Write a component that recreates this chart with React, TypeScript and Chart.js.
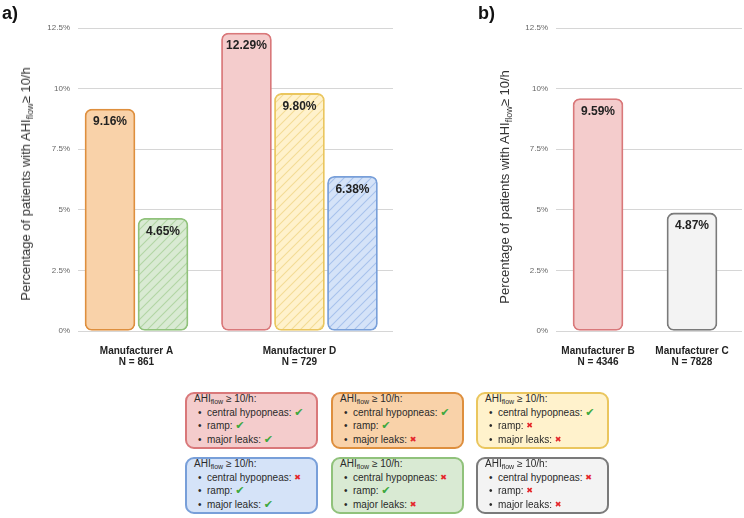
import React, { useEffect, useRef } from "react";
import { Chart, registerables } from "chart.js";

Chart.register(...registerables);

// ---------- data ----------
const leftCategories = ["Manufacturer A", "Manufacturer D"];
const leftCounts = ["N = 861", "N = 729"];
const rightCategories = ["Manufacturer B", "Manufacturer C"];
const rightCounts = ["N = 4346", "N = 7828"];

// left panel series (null = not offered by that manufacturer)
const seriesOrange = [9.16, null];
const seriesGreen = [4.65, null];
const seriesPink = [null, 12.29];
const seriesYellow = [null, 9.8];
const seriesBlue = [null, 6.38];

// right panel
const rightValues = [9.59, 4.87];

const yTickValues = [0, 2.5, 5, 7.5, 10, 12.5];

const legendItems = ["central hypopneas:", "ramp:", "major leaks:"];
const legendOrder = ["pink", "orange", "yellow", "blue", "green", "gray"];
const legendChecks = [
  [true, true, true],
  [true, true, false],
  [true, false, false],
  [false, true, true],
  [false, true, false],
  [false, false, false],
];

// ---------- styles ----------
const FONT = '"Liberation Sans", Arial, Helvetica, "DejaVu Sans", sans-serif';

const PALETTE: Record<string, { fill: string; border: string; hatch?: string }> = {
  pink: { fill: "#f4cccc", border: "#d9787a" },
  orange: { fill: "#f9d2a9", border: "#de8f3e" },
  yellow: { fill: "#fff2cc", border: "#eac65e", hatch: "#f3dc95" },
  blue: { fill: "#d5e3f8", border: "#789fd9", hatch: "#a8c2ec" },
  green: { fill: "#d9ead3", border: "#90c27b", hatch: "#b2d5a4" },
  gray: { fill: "#f3f3f3", border: "#7a7a7a" },
};

function makeHatch(ctx: CanvasRenderingContext2D, fill: string, line: string) {
  const s = 9;
  const c = document.createElement("canvas");
  c.width = s;
  c.height = s;
  const g = c.getContext("2d")!;
  g.fillStyle = fill;
  g.fillRect(0, 0, s, s);
  g.strokeStyle = line;
  g.lineWidth = 1.1;
  g.beginPath();
  g.moveTo(-1, s + 1);
  g.lineTo(s + 1, -1);
  g.moveTo(-1, 1);
  g.lineTo(1, -1);
  g.moveTo(s - 1, s + 1);
  g.lineTo(s + 1, s - 1);
  g.stroke();
  return ctx.createPattern(c, "repeat") as CanvasPattern;
}

const valueLabels = {
  id: "valueLabels",
  afterDatasetsDraw(chart: any) {
    const ctx = chart.ctx;
    ctx.save();
    ctx.font = `bold 12px ${FONT}`;
    ctx.fillStyle = "#222";
    ctx.textAlign = "center";
    ctx.textBaseline = "middle";
    chart.data.datasets.forEach((ds: any, di: number) => {
      const meta = chart.getDatasetMeta(di);
      meta.data.forEach((el: any, i: number) => {
        const raw = ds.data[i];
        const v = raw && typeof raw === "object" ? raw.y : raw;
        if (v === null || v === undefined) return;
        ctx.fillText(v.toFixed(2) + "%", el.x, el.y + 13);
      });
    });
    ctx.restore();
  },
};

function buildOptions(
  categories: string[],
  counts: string[],
  xMin: number,
  xMax: number,
  padLeft: number,
  padRight: number
) {
  return {
    animation: false,
    responsive: true,
    maintainAspectRatio: false,
    layout: { padding: { left: padLeft, right: padRight, top: 28, bottom: 0 } },
    plugins: {
      legend: { display: false },
      tooltip: { enabled: false },
      title: { display: false },
    },
    datasets: {
      bar: {
        skipNull: true,
        barThickness: 53,
        maxBarThickness: 50,
        borderRadius: 7,
        borderSkipped: false,
        borderWidth: 1.8,
      },
    },
    scales: {
      x: {
        type: "linear",
        min: xMin,
        max: xMax,
        offset: false,
        grid: { display: false },
        border: { display: false },
        afterBuildTicks: (a: any) => {
          a.ticks = categories.map((_, i) => ({ value: i }));
        },
        afterFit: (a: any) => {
          a.height = 39;
        },
        ticks: {
          autoSkip: false,
          maxRotation: 0,
          minRotation: 0,
          padding: 6.5,
          color: "#222",
          font: { family: FONT, size: 10, weight: "bold", lineHeight: 1.1 },
          callback: (v: any) => [categories[v], counts[v]],
        },
      },
      y: {
        type: "linear",
        min: 0,
        max: 12.5,
        afterBuildTicks: (a: any) => {
          a.ticks = yTickValues.map((v) => ({ value: v }));
        },
        afterFit: (a: any) => {
          a.width = 40;
        },
        grid: { color: "#d6d6d6", lineWidth: 1, drawTicks: false },
        border: { display: false },
        ticks: {
          padding: 8,
          color: "#666",
          font: { family: FONT, size: 8 },
          callback: (v: any) => v + "%",
        },
      },
    },
  };
}

function toPoints(values: (number | null)[]) {
  return values.map((v, i) => ({ x: i, y: v }));
}

function LegendBox({ colorKey, checks, left, top }: any) {
  const p = PALETTE[colorKey];
  return (
    <div
      style={{
        position: "absolute",
        left,
        top,
        width: 133,
        height: 57,
        boxSizing: "border-box",
        border: `2px solid ${p.border}`,
        borderRadius: 9,
        background: p.fill,
        color: "#2a2a2a",
        fontSize: 10,
        fontFamily: FONT,
      }}
    >
      <div style={{ position: "absolute", left: 7, top: -1.5, lineHeight: "12px", whiteSpace: "nowrap" }}>
        AHI
        <sub style={{ fontSize: 7, lineHeight: 0, verticalAlign: "-2px" }}>flow</sub> ≥ 10/h:
      </div>
      {legendItems.map((t, i) => (
        <div
          key={i}
          style={{
            position: "absolute",
            left: 20,
            top: 12.6 + i * 13.6,
            lineHeight: "12px",
            whiteSpace: "nowrap",
          }}
        >
          <span style={{ position: "absolute", left: -9, top: 0 }}>•</span>
          {t}{" "}
          {checks[i] ? (
            <span style={{ color: "#3da83f", fontSize: 11, fontFamily: '"DejaVu Sans", sans-serif' }}>✔</span>
          ) : (
            <span
              style={{
                color: "#e5262a",
                fontSize: 8,
                fontFamily: '"DejaVu Sans", sans-serif',
                position: "relative",
                top: -1,
              }}
            >
              ✖
            </span>
          )}
        </div>
      ))}
    </div>
  );
}

function AxisTitle({ cx, cy }: { cx: number; cy: number }) {
  return (
    <div
      style={{
        position: "absolute",
        left: cx,
        top: cy,
        transform: "translate(-50%, -50%) rotate(-90deg)",
        whiteSpace: "nowrap",
        fontSize: 13,
        lineHeight: "16px",
        color: "#333",
        fontFamily: FONT,
      }}
    >
      Percentage of patients with AHI
      <sub style={{ fontSize: 9, lineHeight: 0, verticalAlign: "-3px" }}>flow</sub>≥ 10/h
    </div>
  );
}

export default function App() {
  const leftRef = useRef<HTMLCanvasElement>(null);
  const rightRef = useRef<HTMLCanvasElement>(null);

  useEffect(() => {
    const lc = leftRef.current!;
    const rc = rightRef.current!;
    const lctx = lc.getContext("2d")!;

    const ds = (values: (number | null)[], key: string) => {
      const p = PALETTE[key];
      return {
        data: toPoints(values),
        backgroundColor: p.hatch ? makeHatch(lctx, p.fill, p.hatch) : p.fill,
        borderColor: p.border,
      };
    };

    const left = new Chart(lc, {
      type: "bar",
      data: {
        datasets: [
          ds(seriesOrange, "orange"),
          ds(seriesGreen, "green"),
          ds(seriesPink, "pink"),
          ds(seriesYellow, "yellow"),
          ds(seriesBlue, "blue"),
        ],
      },
      options: buildOptions(leftCategories, leftCounts, -0.359, 1.574, 38, 7) as any,
      plugins: [valueLabels],
    });

    const right = new Chart(rc, {
      type: "bar",
      data: {
        datasets: [
          {
            data: toPoints(rightValues),
            backgroundColor: [PALETTE.pink.fill, PALETTE.gray.fill],
            borderColor: [PALETTE.pink.border, PALETTE.gray.border],
          },
        ],
      },
      options: buildOptions(rightCategories, rightCounts, -0.447, 1.532, 116, 2) as any,
      plugins: [valueLabels],
    });

    return () => {
      left.destroy();
      right.destroy();
    };
  }, []);

  const boxLefts = [185, 331, 476];
  const boxTops = [392, 457];

  return (
    <div
      style={{
        position: "absolute",
        left: 0,
        top: 0,
        width: 744,
        height: 518,
        background: "#fff",
        fontFamily: FONT,
        overflow: "hidden",
      }}
    >
      <div style={{ position: "absolute", left: 0, top: 0, width: 400, height: 370 }}>
        <canvas ref={leftRef} />
      </div>
      <div style={{ position: "absolute", left: 400, top: 0, width: 344, height: 370 }}>
        <canvas ref={rightRef} />
      </div>

      <div style={{ position: "absolute", left: 2, top: 4, fontSize: 18, lineHeight: "18px", fontWeight: "bold", color: "#111" }}>
        a)
      </div>
      <div style={{ position: "absolute", left: 478, top: 4, fontSize: 18, lineHeight: "18px", fontWeight: "bold", color: "#111" }}>
        b)
      </div>

      <AxisTitle cx={26} cy={184} />
      <AxisTitle cx={505} cy={187} />

      {legendOrder.map((k, i) => (
        <LegendBox
          key={k}
          colorKey={k}
          checks={legendChecks[i]}
          left={boxLefts[i % 3]}
          top={boxTops[Math.floor(i / 3)]}
        />
      ))}
    </div>
  );
}
